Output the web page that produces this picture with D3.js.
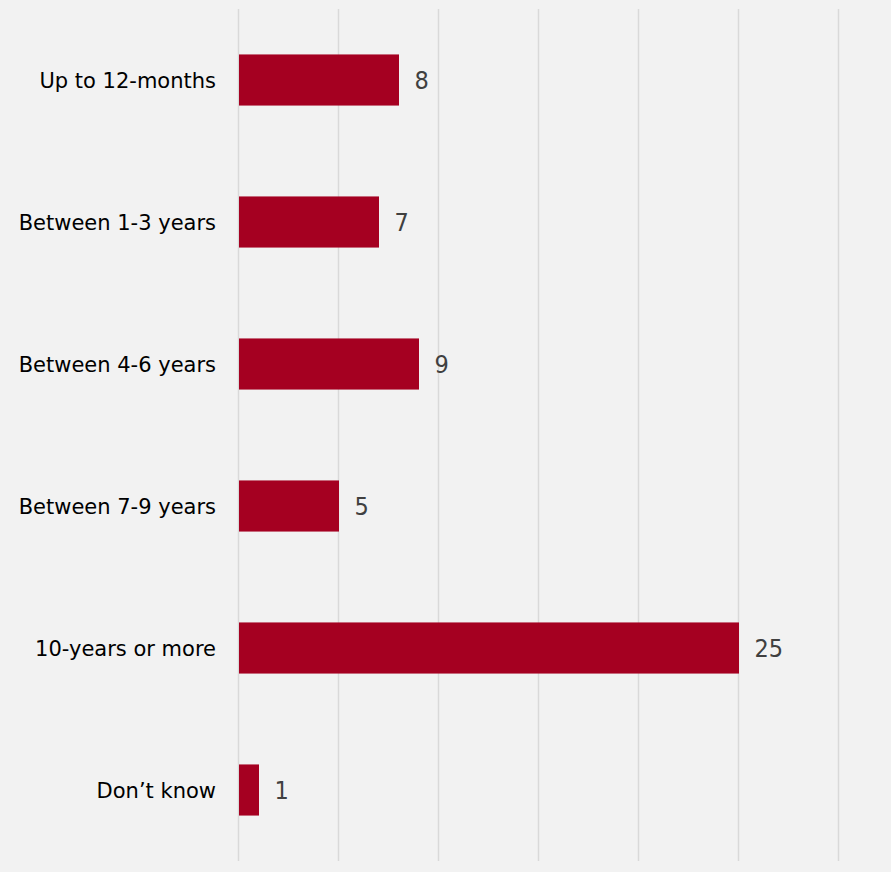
<!DOCTYPE html>
<html>
<head>
<meta charset="utf-8">
<script src="https://cdn.jsdelivr.net/npm/d3@7"></script>
<style>
  html, body { margin: 0; padding: 0; background: #f2f2f2; }
  svg { display: block; }
  .cat { font-family: "DejaVu Sans", sans-serif; font-size: 21px; fill: #000; }
  .val { font-family: "DejaVu Sans Condensed", "DejaVu Sans", sans-serif; font-size: 25px; fill: #404040; }
</style>
</head>
<body>
<svg id="chart" width="891" height="872"></svg>
<script>
// Time ranges and respondent counts
const categories = ["Up to 12-months", "Between 1-3 years", "Between 4-6 years", "Between 7-9 years", "10-years or more", "Don\u2019t know"];
const counts = [8, 7, 9, 5, 25, 1];
const gridTicks = [0, 5, 10, 15, 20, 25, 30];

const svg = d3.select("#chart");
svg.append("rect").attr("width", 891).attr("height", 872).attr("fill", "#f2f2f2");

const x = d3.scaleLinear().domain([0, 30]).range([238.5, 838.5]);
const y = d3.scaleBand().domain(categories).range([9, 861]).paddingInner(0.64).paddingOuter(0.32);

// vertical gridlines
svg.append("g").selectAll("line").data(gridTicks).join("line")
  .attr("x1", d => x(d)).attr("x2", d => x(d))
  .attr("y1", 9).attr("y2", 861)
  .attr("stroke", "#d9d9d9").attr("stroke-width", 1.5);

// bars
svg.append("g").selectAll("rect").data(categories).join("rect")
  .attr("x", x(0) + 0.5)
  .attr("y", d => y(d))
  .attr("width", (d, i) => x(counts[i]) - x(0))
  .attr("height", y.bandwidth())
  .attr("fill", "#a50021");

// value labels
svg.append("g").selectAll("text").data(categories).join("text")
  .attr("class", "val")
  .attr("x", (d, i) => x(counts[i]) + 16)
  .attr("y", d => y(d) + y.bandwidth() / 2)
  .attr("dy", "0.36em")
  .text((d, i) => counts[i]);

// category labels
svg.append("g").selectAll("text").data(categories).join("text")
  .attr("class", "cat")
  .attr("x", 216)
  .attr("y", d => y(d) + y.bandwidth() / 2)
  .attr("dy", "0.36em")
  .attr("text-anchor", "end")
  .text(d => d);
</script>
</body>
</html>
